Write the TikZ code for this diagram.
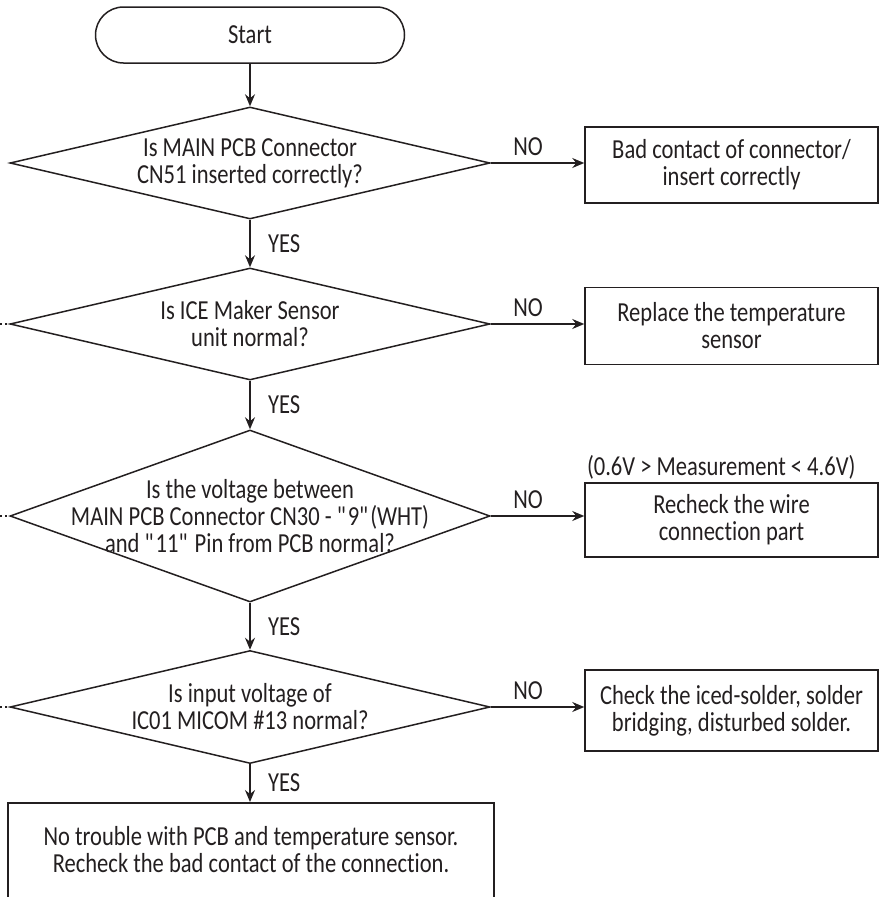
\documentclass[tikz,border=0pt]{standalone}
\usepackage{fontspec}
\setmainfont{Carlito}[FakeStretch=0.82, Ligatures={NoCommon}]
\usetikzlibrary{arrows.meta, positioning, shapes.geometric}
\definecolor{cink}{HTML}{231F20}
\tikzset{
  every picture/.style={line width=1.5pt},
  txt/.style={font=\fontsize{27.5}{27}\selectfont, text=cink, align=center},
  term/.style={draw=cink, rounded corners=28pt, minimum width=309pt, minimum height=56pt, txt},
  decision/.style={draw=cink, diamond, minimum width=480pt, minimum height=#1, inner sep=0pt},
  decision/.default=112pt,
  box/.style={draw=cink, minimum width=293pt, minimum height=#1, inner sep=2pt, txt},
  box/.default=77pt,
  arrow/.style={-{Stealth[length=12pt, width=10pt, inset=4pt]}, draw=cink, line width=1.5pt},
  yeslbl/.style={txt, right=14pt},
  nolbl/.style={txt, above=3pt, pos=0.4},
  lead/.style={draw=cink, line width=1.5pt, dash pattern=on 1.5pt off 3.5pt},
}

\begin{document}
\begin{tikzpicture}[x=1pt, y=-1pt]
  \useasboundingbox (0,0) rectangle (885,897);
  \clip (0,0) rectangle (885,897);
  \node[term] (start) at (250,35) {Start};
  \node[decision, label={[txt]center:{Is MAIN PCB Connector\\CN51 inserted correctly?}}] (d1) at (250,163) {};
  \node[decision, label={[txt]center:{Is ICE Maker Sensor\\unit normal?}}] (d2) at (250,324) {};
  \node[decision=172pt, label={[txt]center:{Is the voltage between\\MAIN PCB Connector CN30 - \textquotedbl 9\textquotedbl(WHT)\\and \textquotedbl 11\textquotedbl\ Pin from PCB normal?}}] (d3) at (250,516) {};
  \node[decision=113pt, label={[txt]center:{Is input voltage of\\IC01 MICOM \#13 normal?}}] (d4) at (250,707) {};
  \node[box=76pt] (b1) at (731.5,165) {Bad contact of connector/\\insert correctly};
  \node[box] (b2) at (731.5,326) {Replace the temperature\\sensor};
  \node[box=74pt] (b3) at (731.5,520) {Recheck the wire\\connection part};
  \node[txt, anchor=south west, inner sep=2pt] (range) at (b3.north west) {(0.6V > Measurement < 4.6V)};
  \node[box=81pt] (b4) at (731.5,710.5) {Check the iced-solder, solder\\bridging, disturbed solder.};
  \node[draw=cink, minimum width=486pt, minimum height=190pt, anchor=north,
        label={[txt, yshift=48pt]center:{No trouble with PCB and temperature sensor.\\Recheck the bad contact of the connection.}}] (fin) at (251,802) {};
  \coordinate (l2) at (0,324);
  \coordinate (l3) at (0,516);
  \coordinate (l4) at (0,707);
  \draw[arrow] (start) -- (d1);
  \draw[arrow] (d1) -- node[yeslbl] {YES} (d2);
  \draw[arrow] (d2) -- node[yeslbl] {YES} (d3);
  \draw[arrow] (d3) -- node[yeslbl] {YES} (d4);
  \draw[arrow] (d4) -- node[yeslbl] {YES} (d4.south |- fin.north);
  \draw[arrow] (d1.east) -- node[nolbl] {NO} (d1.east -| b1.west);
  \draw[arrow] (d2.east) -- node[nolbl] {NO} (d2.east -| b2.west);
  \draw[arrow] (d3.east) -- node[nolbl] {NO} (d3.east -| b3.west);
  \draw[arrow] (d4.east) -- node[nolbl] {NO} (d4.east -| b4.west);
  \draw[lead] (l2) -- (d2.west);
  \draw[lead] (l3) -- (d3.west);
  \draw[lead] (l4) -- (d4.west);
\end{tikzpicture}
\end{document}
